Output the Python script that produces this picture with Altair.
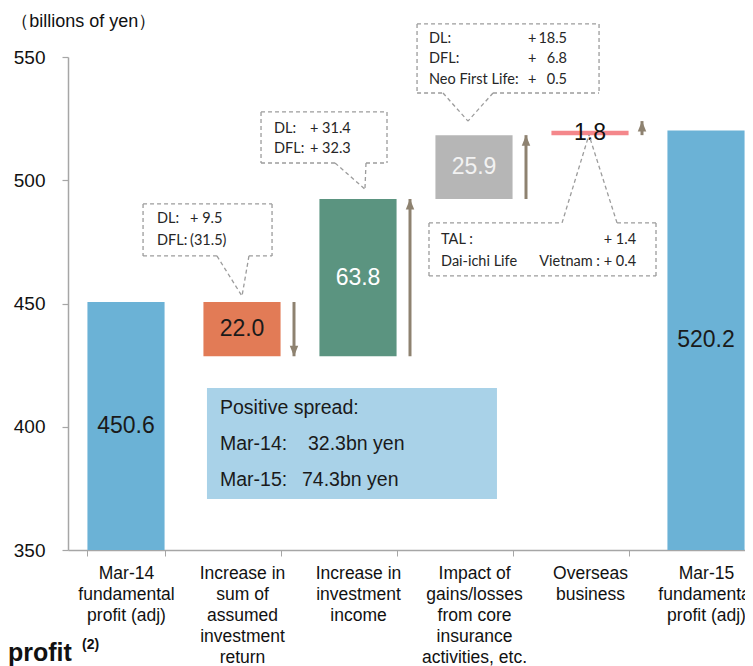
import altair as alt
import pandas as pd

# ---------------- data ----------------
categories = [
    "Mar-14\nfundamental\nprofit (adj)",
    "Increase in\nsum of\nassumed\ninvestment\nreturn",
    "Increase in\ninvestment\nincome",
    "Impact of\ngains/losses\nfrom core\ninsurance\nactivities, etc.",
    "Overseas\nbusiness",
    "Mar-15\nfundamental\nprofit (adj)",
]
kinds = ["total", "delta", "delta", "delta", "delta", "total"]
changes = [450.6, -22.0, 63.8, 25.9, 1.8, 520.2]
value_labels = ["450.6", "22.0", "63.8", "25.9", "1.8", "520.2"]
bar_colors = ["#6BB2D6", "#E27B56", "#5B9480", "#B6B6B6", "#F4878B", "#6BB2D6"]
label_colors = ["#1a1a1a", "#1a1a1a", "#ffffff", "#f2f2f2", "#111111", "#1a1a1a"]
axis_base = 350
arrow_tips = [None, 428.6, 492.4, 518.3, 524.0, None]

# callout boxes (x in category-index units, y in billions of yen)
callouts = [
    # x0, x1, ytop, ybot, side, gap_a, gap_b, apex_x, apex_y
    (0.647, 1.759, 490.4, 469.3, "bottom", 1.284, 1.560, 1.500, 453.0),
    (1.664, 2.750, 527.7, 507.0, "bottom", 2.302, 2.569, 2.560, 496.4),
    (3.009, 4.578, 563.4, 535.4, "bottom", 3.233, 3.664, 3.448, 524.0),
    (3.112, 5.069, 482.7, 461.2, "top", 4.259, 4.733, 4.491, 518.4),
]
callout_left_texts = [
    ("DL:", 0.767, 484.3), ("DFL:", 0.767, 475.4),
    ("+ 9.5", 1.052, 484.3), ("(31.5)", 1.052, 475.4),
    ("DL:", 1.776, 520.8), ("DFL:", 1.776, 512.7),
    ("+ 31.4", 2.086, 520.8), ("+ 32.3", 2.086, 512.7),
    ("DL:", 3.112, 557.3), ("DFL:", 3.112, 549.2), ("Neo First Life:", 3.112, 540.7),
    ("+", 3.966, 557.3), ("+", 3.966, 549.2), ("+", 3.966, 540.7),
    ("TAL :", 3.216, 475.8), ("Dai-ichi Life", 3.216, 466.8),
]
callout_right_texts = [
    ("18.5", 4.302, 557.3), ("6.8", 4.302, 549.2), ("0.5", 4.302, 540.7),
    ("+ 1.4", 4.897, 475.8), ("Vietnam : + 0.4", 4.897, 466.8),
]
spread_box = (1.198, 3.698, 415.7, 370.7)
spread_texts = [
    ("Positive spread:", 1.310, 407.6),
    ("Mar-14:", 1.310, 393.0), ("32.3bn yen", 2.069, 393.0),
    ("Mar-15:", 1.310, 378.4), ("74.3bn yen", 2.017, 378.4),
]
unit_title = ("（billions of yen）", -0.49, 564.2)

# ---------------- tables ----------------
rows = []
running = 0.0
for cat, kind, ch, lab, col, lcol in zip(categories, kinds, changes, value_labels, bar_colors, label_colors):
    if kind == "total":
        start, end = axis_base, ch
        running = ch
    else:
        start, end = running, running + ch
        running = end
    rows.append(dict(cat=cat, start=start, end=end, mid=(start + end) / 2,
                     label=lab, color=col, lcolor=lcol))
bars = pd.DataFrame(rows)

arrow_rows = []
for r, tip in zip(rows, arrow_tips):
    if tip is None:
        continue
    arrow_rows.append(dict(cat=r["cat"], a_from=r["start"], a_to=tip,
                           dir="up" if tip > r["start"] else "down"))
arrows = pd.DataFrame(arrow_rows)

segs = []
for x0, x1, yt, yb, side, ga, gb, ax, ay in callouts:
    ye = yb if side == "bottom" else yt
    yo = yt if side == "bottom" else yb
    segs += [
        dict(x=x0, x2=x1, y=yo, y2=yo),
        dict(x=x0, x2=x0, y=yt, y2=yb),
        dict(x=x1, x2=x1, y=yt, y2=yb),
        dict(x=x0, x2=ga, y=ye, y2=ye),
        dict(x=gb, x2=x1, y=ye, y2=ye),
        dict(x=ga, x2=ax, y=ye, y2=ay),
        dict(x=gb, x2=ax, y=ye, y2=ay),
    ]
segs = pd.DataFrame(segs)

left_txt = pd.DataFrame(callout_left_texts, columns=["text", "u", "v"])
right_txt = pd.DataFrame(callout_right_texts, columns=["text", "u", "v"])
spread_df = pd.DataFrame([dict(x=spread_box[0], x2=spread_box[1], y=spread_box[2], y2=spread_box[3])])
spread_txt = pd.DataFrame(spread_texts, columns=["text", "u", "v"])
title_df = pd.DataFrame([dict(text=unit_title[0], u=unit_title[1], v=unit_title[2])])
profit_df = pd.DataFrame([dict(text="profit", u=-0.517, v=305.0)])
profit_sup = pd.DataFrame([dict(text="(2)", u=0.121, v=309.8)])

# ---------------- scales ----------------
PLOT_W = 696
yscale = alt.Scale(domain=[350, 550], nice=False, zero=False)
yaxis = alt.Axis(values=[350, 400, 450, 500, 550], title=None, grid=False,
                 labelFontSize=19, labelColor="#111111", labelFont="Liberation Sans",
                 labelPadding=17, tickSize=6, tickColor="#A6A6A6",
                 domainColor="#A6A6A6", domainWidth=1.5, tickWidth=1.2)
xscale = alt.Scale(domain=categories, range=[0, PLOT_W], paddingInner=0.335, paddingOuter=0.1675)
xaxis = alt.Axis(title=None, labelAngle=0, labelExpr="split(datum.label, '\\n')",
                 labelFontSize=17.5, labelLineHeight=21, labelColor="#111111",
                 labelFont="Liberation Sans", labelPadding=8, labelLimit=0,
                 labelBaseline="top", tickBand="extent", tickSize=6,
                 tickColor="#A6A6A6", domainColor="#A6A6A6", domainWidth=1.5)
uscale = alt.Scale(domain=[0, 6], range=[0, PLOT_W], nice=False, zero=False)

X = alt.X("cat:N", sort=categories, scale=xscale, axis=xaxis)
Xn = alt.X("cat:N", sort=categories, scale=xscale, axis=None)

bar_layer = alt.Chart(bars).mark_bar().encode(
    x=X,
    y=alt.Y("start:Q", scale=yscale, axis=yaxis),
    y2="end:Q",
    color=alt.Color("color:N", scale=None),
)
val_layer = alt.Chart(bars).mark_text(font="Liberation Sans", fontSize=23).encode(
    x=Xn,
    y=alt.Y("mid:Q", scale=yscale, axis=yaxis),
    text="label:N",
    color=alt.Color("lcolor:N", scale=None),
)
ARROW_C = "#8E8270"
shaft = alt.Chart(arrows).mark_rule(strokeWidth=3, color=ARROW_C, xOffset=52).encode(
    x=Xn,
    y=alt.Y("a_from:Q", scale=yscale, axis=yaxis),
    y2="a_to:Q",
)
UP = "M0,0L-0.85,2.1L0.85,2.1Z"
DOWN = "M0,0L-0.85,-2.1L0.85,-2.1Z"
head = alt.Chart(arrows).mark_point(filled=True, opacity=1, size=100, color=ARROW_C, xOffset=52).encode(
    x=Xn,
    y=alt.Y("a_to:Q", scale=yscale, axis=yaxis),
    shape=alt.Shape("dir:N", scale=alt.Scale(domain=["up", "down"], range=[UP, DOWN]), legend=None),
)

U = lambda f: alt.X(f, scale=uscale, axis=None)
V = lambda f: alt.Y(f, scale=yscale, axis=yaxis)

spread_rect = alt.Chart(spread_df).mark_rect(color="#A9D2E8").encode(
    x=U("x:Q"), x2="x2:Q", y=V("y:Q"), y2="y2:Q")
spread_text = alt.Chart(spread_txt).mark_text(align="left", font="Liberation Sans",
                                               fontSize=19.5, color="#1a1a1a").encode(
    x=U("u:Q"), y=V("v:Q"), text="text:N")
seg_layer = alt.Chart(segs).mark_rule(strokeDash=[4, 3], color="#9C9C9C", strokeWidth=1.3).encode(
    x=U("x:Q"), x2="x2:Q", y=V("y:Q"), y2="y2:Q")
ltxt = alt.Chart(left_txt).mark_text(align="left", font="Lato", fontSize=14.5, color="#262626").encode(
    x=U("u:Q"), y=V("v:Q"), text="text:N")
rtxt = alt.Chart(right_txt).mark_text(align="right", font="Lato", fontSize=14.5, color="#262626").encode(
    x=U("u:Q"), y=V("v:Q"), text="text:N")
title_txt = alt.Chart(title_df).mark_text(align="left", font="Liberation Sans", fontSize=18,
                                          color="#111111").encode(
    x=U("u:Q"), y=V("v:Q"), text="text:N")
profit_txt = alt.Chart(profit_df).mark_text(align="left", baseline="alphabetic", font="Liberation Sans",
                                            fontSize=25, fontWeight="bold", color="#111111").encode(
    x=U("u:Q"), y=V("v:Q"), text="text:N")
profit_sup_txt = alt.Chart(profit_sup).mark_text(align="left", baseline="alphabetic", font="Liberation Sans",
                                                 fontSize=14, fontWeight="bold", color="#111111").encode(
    x=U("u:Q"), y=V("v:Q"), text="text:N")

chart = alt.layer(
    bar_layer, spread_rect, spread_text, val_layer, shaft, head,
    seg_layer, ltxt, rtxt, title_txt, profit_txt, profit_sup_txt,
).resolve_scale(x="independent").properties(
    width=677, height=493,
    autosize=alt.AutoSizeParams(type="none"),
    padding={"left": 60, "top": 49, "right": 0, "bottom": 116},
    background="white",
).configure_view(stroke=None)

chart.save("out.html", embed_options={"renderer": "svg", "actions": False})
